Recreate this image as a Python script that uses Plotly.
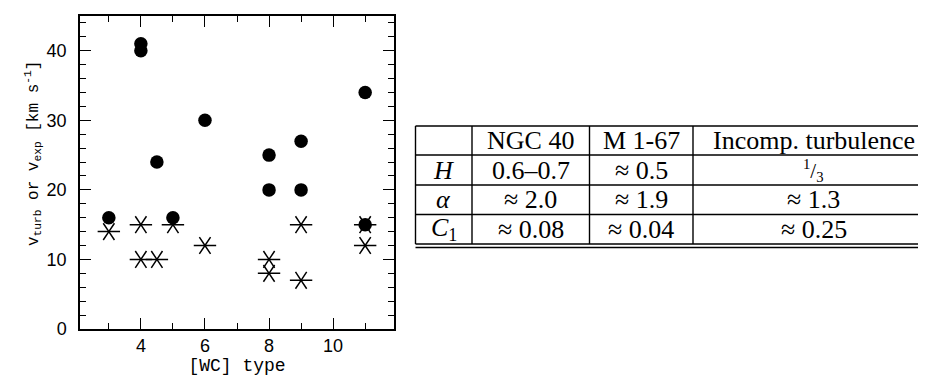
import plotly.graph_objects as go

# ---- data ----
wc_exp = [3, 4, 4, 4.5, 5, 6, 8, 8, 9, 9, 11, 11]
v_exp = [16, 41, 40, 24, 16, 30, 25, 20, 27, 20, 34, 15]
wc_turb = [3, 4, 4, 4.5, 5, 6, 8, 8, 9, 9, 11, 11]
v_turb = [14, 15, 10, 10, 15, 12, 10, 8, 15, 7, 15, 12]

x_ticks = [4, 6, 8, 10]
y_ticks = [0, 10, 20, 30, 40]

x_title = "[WC] type"
y_title = "v<sub>turb</sub> or v<sub>exp</sub> [km s<sup>-1</sup>]"

table_header = ["", "NGC 40", "M 1-67", "Incomp. turbulence"]
table_rows = [
    ["<i>H</i>", "0.6–0.7", "≈ 0.5", "<sup>1</sup>/<sub>3</sub>"],
    ["<i>α</i>", "≈ 2.0", "≈ 1.9", "≈ 1.3"],
    ["<i>C</i><sub>1</sub>", "≈ 0.08", "≈ 0.04", "≈ 0.25"],
]

W, H = 926, 376


def px(x):
    return x / W


def py(y):
    return 1 - y / H


fig = go.Figure()
fig.add_trace(go.Scatter(
    x=wc_exp, y=v_exp, mode="markers", name="v_exp",
    marker=dict(symbol="circle", size=13.5, color="black"),
))
for sym in ["y-up", "y-down"]:
    fig.add_trace(go.Scatter(
        x=wc_turb, y=v_turb, mode="markers", name="v_turb",
        marker=dict(symbol=sym, size=14, angle=90, color="black",
                    line=dict(color="black", width=1.5)),
    ))

axis_common = dict(
    showgrid=False, zeroline=False, showline=True, linecolor="black", linewidth=1.5,
    mirror="ticks", ticks="inside", ticklen=11, tickwidth=1.3, tickcolor="black",
    tickfont=dict(family="Liberation Sans", size=18, color="black"),
)

fig.update_xaxes(
    **axis_common,
    range=[2.1, 11.9], tickvals=x_ticks,
    domain=[px(72), px(386)],
    ticklabelstandoff=0,
    minor=dict(dtick=1, tick0=0, ticks="inside", ticklen=6, tickcolor="black", tickwidth=1.3),
    title=dict(text=x_title, font=dict(family="Liberation Mono", size=18, color="black"), standoff=0),
    automargin=False,
)
fig.update_yaxes(
    **axis_common,
    range=[0, 45], tickvals=y_ticks,
    domain=[py(321), py(8)],
    ticklabelstandoff=8,
    minor=dict(dtick=2, tick0=0, ticks="inside", ticklen=6, tickcolor="black", tickwidth=1.3),
    automargin=False,
)

# ---- table drawn in paper coordinates ----
col_edges = [407.5, 464, 581.5, 685, 926]
row_edges = [118, 147, 177, 206.5, 236]
lw = 1.4
shapes = []
for y in row_edges:
    shapes.append(dict(type="line", xref="paper", yref="paper",
                       x0=px(col_edges[0]), x1=px(col_edges[-1]), y0=py(y), y1=py(y),
                       line=dict(color="black", width=lw)))
shapes.append(dict(type="line", xref="paper", yref="paper",
                   x0=px(col_edges[0]), x1=px(col_edges[-1]), y0=py(239.5), y1=py(239.5),
                   line=dict(color="black", width=lw)))
for x in col_edges[:-1]:
    shapes.append(dict(type="line", xref="paper", yref="paper",
                       x0=px(x), x1=px(x), y0=py(row_edges[0]), y1=py(row_edges[-1]),
                       line=dict(color="black", width=lw)))

annotations = [dict(
    xref="paper", yref="paper", x=px(25), y=py(146), text=y_title, textangle=-90,
    showarrow=False, xanchor="center", yanchor="middle",
    font=dict(family="Liberation Mono", size=16, color="black"),
)]
all_rows = [table_header] + table_rows
for r, row in enumerate(all_rows):
    yc = (row_edges[r] + row_edges[r + 1]) / 2
    for c, txt in enumerate(row):
        if not txt:
            continue
        xc = (col_edges[c] + col_edges[c + 1]) / 2
        size = 26
        if "<sup>" in txt:
            size = 21
        annotations.append(dict(
            xref="paper", yref="paper", x=px(xc), y=py(yc), text=txt,
            showarrow=False, xanchor="center", yanchor="middle",
            font=dict(family="Liberation Serif", size=size, color="black"),
        ))

fig.update_layout(
    width=W, height=H,
    margin=dict(l=0, r=0, t=0, b=0),
    paper_bgcolor="white", plot_bgcolor="white",
    showlegend=False,
    shapes=shapes, annotations=annotations,
)

fig.write_html("out.html")
